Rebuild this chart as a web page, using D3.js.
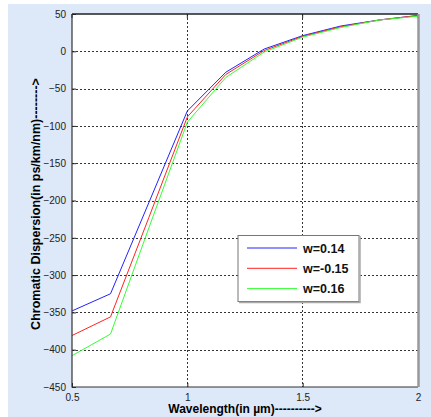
<!DOCTYPE html>
<html><head><meta charset="utf-8">
<script src="https://cdn.jsdelivr.net/npm/d3@7"></script>
<style>body{margin:0;background:#fff}svg{display:block}text{font-family:"Liberation Sans",Arial,sans-serif}</style>
</head><body>
<svg id="c" width="431" height="417"></svg>
<script>
const wavelength = [0.5, 0.667, 0.833, 1.0, 1.167, 1.333, 1.5, 1.667, 1.833, 2.0];
const seriesNames = ["w=0.14", "w=-0.15", "w=0.16"];
const seriesColors = ["#2222ff", "#ff2222", "#33ff33"];
const dispW014 = [-348, -325, -203, -80, -28, 3, 21, 34, 42, 48];
const dispWm015 = [-381, -356, -223, -88, -31, 1, 20, 33, 42, 48];
const dispW016 = [-408, -379, -237, -95, -35, -1, 19, 32, 42, 47];
const xTicks = [0.5, 1, 1.5, 2];
const xTickLabels = ["0.5", "1", "1.5", "2"];
const yTicks = [50, 0, -50, -100, -150, -200, -250, -300, -350, -400, -450];

const series = [dispW014, dispWm015, dispW016];
const svg = d3.select("#c");
svg.append("rect").attr("x", 8).attr("y", 4).attr("width", 423).attr("height", 413).attr("fill", "#dde8f8");

const L = 72, R = 418, T = 14, B = 387;
const x = d3.scaleLinear().domain([0.5, 2]).range([L, R]);
const y = d3.scaleLinear().domain([-450, 50]).range([B, T]);

svg.append("rect").attr("x", L).attr("y", T).attr("width", R - L).attr("height", B - T).attr("fill", "#fff");

// grid
const g = svg.append("g");
xTicks.slice(1, -1).forEach(v => g.append("line").attr("x1", x(v)).attr("x2", x(v)).attr("y1", T).attr("y2", B)
  .attr("stroke", "#333").attr("stroke-dasharray", "2,2").attr("stroke-width", 1).attr("shape-rendering", "crispEdges"));
yTicks.slice(1, -1).forEach(v => g.append("line").attr("x1", L).attr("x2", R).attr("y1", Math.round(y(v)) + 0.5).attr("y2", Math.round(y(v)) + 0.5)
  .attr("stroke", "#333").attr("stroke-dasharray", "2,2").attr("stroke-width", 1));

// axes
const xAxis = d3.axisBottom(x).tickValues(xTicks).tickFormat((d, i) => xTickLabels[i]).tickSizeInner(-4).tickSizeOuter(0).tickPadding(7);
const yAxis = d3.axisLeft(y).tickValues(yTicks).tickSizeInner(-4).tickSizeOuter(0).tickPadding(6);
const xa = svg.append("g").attr("transform", `translate(0,${B})`).call(xAxis);
const ya = svg.append("g").attr("transform", `translate(${L},0)`).call(yAxis);
[xa, ya].forEach(a => {
  a.select(".domain").remove();
  a.selectAll("text").attr("font-size", 10).attr("fill", "#222").attr("font-family", '"Liberation Sans",Arial,sans-serif');
  a.selectAll("line").attr("stroke", "#222");
});
xTicks.forEach(v => svg.append("line").attr("x1", x(v)).attr("x2", x(v)).attr("y1", T).attr("y2", T + 4).attr("stroke", "#222"));

// lines
const line = d3.line().x((d, i) => x(wavelength[i])).y(d => y(d));
series.forEach((s, k) => svg.append("path").datum(s).attr("d", line).attr("fill", "none")
  .attr("stroke", seriesColors[k]).attr("stroke-width", 1));

// box
svg.append("path").attr("d", `M${L},${T}H${R}`).attr("stroke", "#222").attr("stroke-width", 1.5).attr("fill", "none");
svg.append("path").attr("d", `M${L},${T}V${B}H${R}`).attr("stroke", "#333").attr("stroke-width", 1.2).attr("fill", "none");
svg.append("path").attr("d", `M${R + 0.5},${T}V${B}`).attr("stroke", "#999").attr("stroke-width", 2.5).attr("fill", "none");

// labels
svg.append("text").attr("x", (L + R) / 2).attr("y", 413).attr("text-anchor", "middle").attr("font-size", 12).attr("font-weight", "bold")
  .text("Wavelength(in µm)---------->");
svg.append("text").attr("transform", `translate(40,204) rotate(-90)`).attr("text-anchor", "middle")
  .attr("font-size", 12.5).attr("font-weight", "bold").text("Chromatic Dispersion(in ps/km/nm)-------->");

// legend
const lg = svg.append("g");
lg.append("rect").attr("x", 238).attr("y", 235.5).attr("width", 121).attr("height", 66).attr("fill", "#fff")
  .attr("stroke", "#777").attr("stroke-width", 1);
lg.append("path").attr("d", "M239,302.5H360V236").attr("stroke", "#aaa").attr("stroke-width", 1.5).attr("fill", "none");
seriesNames.forEach((n, k) => {
  const yy = 248 + k * 20.3;
  lg.append("line").attr("x1", 247).attr("x2", 297).attr("y1", yy).attr("y2", yy).attr("stroke", seriesColors[k]).attr("stroke-width", 1);
  lg.append("text").attr("x", 303).attr("y", yy + 4.5).attr("font-size", 12.5).attr("font-weight", "bold").attr("fill", "#111").text(n);
});
</script>
</body></html>
